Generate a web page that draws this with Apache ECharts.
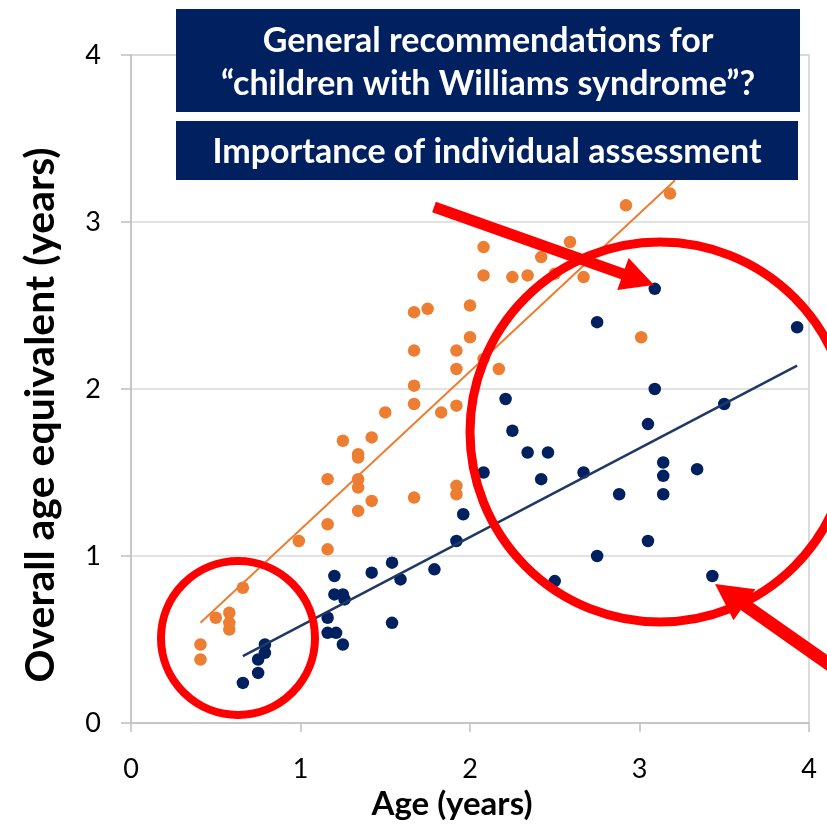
<!DOCTYPE html>
<html>
<head>
<meta charset="utf-8">
<script src="https://cdn.jsdelivr.net/npm/echarts@6/dist/echarts.min.js"></script>
<style>
  html, body { margin: 0; padding: 0; background: #fff; }
  #chart { width: 827px; height: 825px; }
</style>
</head>
<body>
<div id="chart"></div>
<script>
// orange group - age vs. overall age equivalent
const orangeAge = [3.18, 2.92, 2.08, 2.59, 2.42, 2.08, 2.25, 2.34, 2.50, 2.67,
  1.67, 1.75, 2.00, 2.00, 1.67, 1.92, 1.92, 2.17, 1.67, 1.67,
  1.92, 1.83, 1.50, 3.01, 1.67, 1.92, 1.92, 1.42, 1.25, 1.34,
  1.34, 1.16, 1.34, 1.34, 1.42, 1.34, 0.99, 1.16, 1.16, 0.66,
  0.50, 0.58, 0.58, 0.58, 0.41, 0.41, 2.08];
const orangeEquiv = [3.17, 3.10, 2.85, 2.88, 2.79, 2.68, 2.67, 2.68, 2.69, 2.67,
  2.46, 2.48, 2.50, 2.31, 2.23, 2.23, 2.12, 2.12, 2.02, 1.91,
  1.90, 1.86, 1.86, 2.31, 1.35, 1.42, 1.37, 1.71, 1.69, 1.61,
  1.59, 1.46, 1.46, 1.41, 1.33, 1.27, 1.09, 1.19, 1.04, 0.81,
  0.63, 0.66, 0.60, 0.56, 0.47, 0.38, 2.18];

// navy group
const navyAge = [3.09, 2.75, 3.93, 3.09, 3.50, 2.21, 3.05, 2.25, 2.34, 2.46,
  3.14, 3.14, 3.34, 2.08, 2.67, 2.42, 2.88, 3.14, 1.96, 1.92,
  3.05, 2.75, 1.79, 1.59, 2.50, 3.43, 1.20, 1.20, 1.25, 1.26,
  1.42, 1.54, 1.16, 1.16, 1.21, 1.25, 1.54, 0.79, 0.79, 0.75,
  0.75, 0.66];
const navyEquiv = [2.60, 2.40, 2.37, 2.00, 1.91, 1.94, 1.79, 1.75, 1.62, 1.62,
  1.56, 1.48, 1.52, 1.50, 1.50, 1.46, 1.37, 1.37, 1.25, 1.09,
  1.09, 1.00, 0.92, 0.86, 0.85, 0.88, 0.88, 0.77, 0.77, 0.74,
  0.90, 0.96, 0.63, 0.54, 0.54, 0.47, 0.60, 0.47, 0.42, 0.38,
  0.30, 0.24];

// trend lines (end points)
const orangeTrendAge = [0.41, 3.21];
const orangeTrendEquiv = [0.60, 3.25];
const navyTrendAge = [0.66, 3.93];
const navyTrendEquiv = [0.40, 2.14];

const axisTicks = [0, 1, 2, 3, 4];

const xTitle = 'Age (years)';
const yTitle = 'Overall age equivalent (years)';
const boxTexts = [
  'General recommendations for\n\u201cchildren with Williams syndrome\u201d?',
  'Importance of individual assessment'
];

const ORANGE = '#ED7D31';
const NAVY = '#002060';
const RED = '#FF0000';
const FONT = 'Lato, "Open Sans", sans-serif';

const pairs = (xs, ys) => xs.map((x, i) => [x, ys[i]]);

// thick block arrow as a polygon (annotation, pixel space)
const arrowPoints = (tail, tip, w, headLen, headHalf) => {
  const dx = tip[0] - tail[0], dy = tip[1] - tail[1];
  const len = Math.hypot(dx, dy);
  const ux = dx / len, uy = dy / len;
  const nx = -uy, ny = ux;
  const bx = tip[0] - ux * headLen, by = tip[1] - uy * headLen;
  return [
    [tail[0] + nx * w / 2, tail[1] + ny * w / 2],
    [bx + nx * w / 2, by + ny * w / 2],
    [bx + nx * headHalf, by + ny * headHalf],
    tip,
    [bx - nx * headHalf, by - ny * headHalf],
    [bx - nx * w / 2, by - ny * w / 2],
    [tail[0] - nx * w / 2, tail[1] - ny * w / 2],
  ];
};

const chart = echarts.init(document.getElementById('chart'));

const option = {
  animation: false,
  textStyle: { fontFamily: FONT },
  grid: {
    left: 131, right: 18, top: 55, bottom: 102,
    show: true, borderColor: '#D0D0D0', borderWidth: 1.5
  },
  xAxis: {
    type: 'value', min: 0, max: 4, interval: 1,
    axisLine: { show: true, lineStyle: { color: '#C0C0C0', width: 1.5 } },
    axisTick: { show: true, length: 9, lineStyle: { color: '#C0C0C0', width: 1.5 } },
    axisLabel: { fontSize: 27, color: '#000', margin: 33,
      formatter: (v) => axisTicks.includes(v) ? String(v) : '' },
    splitLine: { show: false }
  },
  yAxis: {
    type: 'value', min: 0, max: 4, interval: 1,
    axisLine: { show: true, lineStyle: { color: '#C0C0C0', width: 1.5 } },
    axisTick: { show: true, length: 10, lineStyle: { color: '#C0C0C0', width: 1.5 } },
    axisLabel: { fontSize: 27, color: '#000', margin: 30,
      formatter: (v) => axisTicks.includes(v) ? String(v) : '' },
    splitLine: { show: true, lineStyle: { color: '#D9D9D9', width: 1.5 } }
  },
  series: [
    {
      type: 'scatter', data: pairs(orangeAge, orangeEquiv),
      symbolSize: 12.5, itemStyle: { color: ORANGE, opacity: 1 }, z: 2
    },
    {
      type: 'scatter', data: pairs(navyAge, navyEquiv),
      symbolSize: 12.5, itemStyle: { color: NAVY, opacity: 1 }, z: 2
    },
    {
      type: 'line', data: pairs(orangeTrendAge, orangeTrendEquiv),
      showSymbol: false, lineStyle: { color: ORANGE, width: 2 }, z: 3
    },
    {
      type: 'line', data: pairs(navyTrendAge, navyTrendEquiv),
      showSymbol: false, lineStyle: { color: '#1F3864', width: 2.5 }, z: 3
    }
  ],
  graphic: [
    // axis titles (centred on the chart area, as in the source)
    { type: 'text', x: 452, y: 804, z: 5,
      style: { text: xTitle, fill: '#000', font: 'bold 33px ' + FONT,
        align: 'center', verticalAlign: 'middle' } },
    { type: 'text', x: 41, y: 415, rotation: Math.PI / 2, z: 5,
      style: { text: yTitle, fill: '#000', font: 'bold 41px ' + FONT,
        align: 'center', verticalAlign: 'middle' } },
    // title boxes
    { type: 'rect', shape: { x: 176, y: 9, width: 624, height: 103 },
      style: { fill: NAVY }, z: 10 },
    { type: 'text', x: 488, y: 63, z: 11,
      style: { text: boxTexts[0], fill: '#fff', font: 'bold 34px ' + FONT,
        align: 'center', verticalAlign: 'middle', lineHeight: 43 } },
    { type: 'rect', shape: { x: 176, y: 121, width: 622, height: 59 },
      style: { fill: NAVY }, z: 10 },
    { type: 'text', x: 487, y: 152, z: 11,
      style: { text: boxTexts[1], fill: '#fff', font: 'bold 34px ' + FONT,
        align: 'center', verticalAlign: 'middle' } },
    // red annotations
    { type: 'circle', shape: { cx: 238, cy: 638, r: 77 },
      style: { fill: 'none', stroke: RED, lineWidth: 8 }, z: 12 },
    { type: 'circle', shape: { cx: 660, cy: 432, r: 190 },
      style: { fill: 'none', stroke: RED, lineWidth: 9 }, z: 12 },
    { type: 'polygon', shape: { points: arrowPoints([434, 207], [654, 285], 11, 33, 17) },
      style: { fill: RED }, z: 12 },
    { type: 'polygon', shape: { points: arrowPoints([880, 700], [715, 584], 13, 36, 19) },
      style: { fill: RED }, z: 12 }
  ]
};

chart.setOption(option);
</script>
</body>
</html>
